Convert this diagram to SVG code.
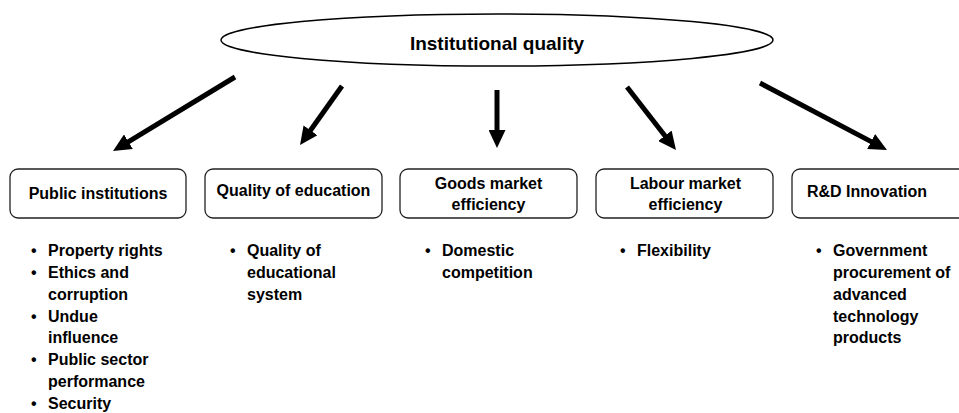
<svg xmlns="http://www.w3.org/2000/svg" width="959" height="413" viewBox="0 0 959 413">
<style>
text{font-family:"Liberation Sans",Arial,sans-serif;font-weight:bold;fill:#000}
.t{font-size:16px}
.title{font-size:19px}
.box{fill:#fff;stroke:#222;stroke-width:1.3}
.arr{stroke:#000;stroke-width:5;fill:none}
.c{text-anchor:middle}
</style>
<defs>
<marker id="ah" viewBox="0 0 18 17" refX="6" refY="8.5" markerWidth="18" markerHeight="17" markerUnits="userSpaceOnUse" orient="auto">
<path d="M0,0 L18,8.5 L0,17 z" fill="#000"/>
</marker>
</defs>
<rect width="959" height="413" fill="#fff"/>
<g id="institutional-quality">
<ellipse cx="497" cy="40" rx="276" ry="26" fill="#fff" stroke="#000" stroke-width="1.5"/>
<text class="title c" x="497" y="50">Institutional quality</text>
</g>
<g id="connectors">
<line class="arr" x1="235" y1="77" x2="123.3" y2="144.8" marker-end="url(#ah)"/>
<line class="arr" x1="342" y1="86" x2="307" y2="135.2" marker-end="url(#ah)"/>
<line class="arr" x1="497" y1="90" x2="497" y2="136" marker-end="url(#ah)"/>
<line class="arr" x1="627" y1="87" x2="668.6" y2="140.5" marker-end="url(#ah)"/>
<line class="arr" x1="760" y1="83" x2="876.4" y2="144.4" marker-end="url(#ah)"/>
</g>
<g id="public-institutions">
<rect class="box" x="10" y="169" width="176" height="49" rx="8"/>
<text class="t c" x="98" y="199">Public institutions</text>
<text class="t" x="31" y="256">•</text><text class="t" x="48" y="256">Property rights</text>
<text class="t" x="31" y="277.9">•</text><text class="t" x="48" y="277.9">Ethics and</text>
<text class="t" x="48" y="299.7">corruption</text>
<text class="t" x="31" y="321.6">•</text><text class="t" x="48" y="321.6">Undue</text>
<text class="t" x="48" y="343.4">influence</text>
<text class="t" x="31" y="365.3">•</text><text class="t" x="48" y="365.3">Public sector</text>
<text class="t" x="48" y="387.1">performance</text>
<text class="t" x="31" y="409">•</text><text class="t" x="48" y="409">Security</text>
</g>
<g id="quality-of-education">
<rect class="box" x="205" y="169" width="177" height="49" rx="8"/>
<text class="t c" x="293.5" y="196">Quality of education</text>
<text class="t" x="230" y="256">•</text><text class="t" x="247" y="256">Quality of</text>
<text class="t" x="247" y="277.9">educational</text>
<text class="t" x="247" y="299.7">system</text>
</g>
<g id="goods-market-efficiency">
<rect class="box" x="400" y="169" width="177" height="49" rx="8"/>
<text class="t c" x="488.5" y="189">Goods market</text>
<text class="t c" x="488.5" y="210">efficiency</text>
<text class="t" x="425" y="256">•</text><text class="t" x="442" y="256">Domestic</text>
<text class="t" x="442" y="277.9">competition</text>
</g>
<g id="labour-market-efficiency">
<rect class="box" x="596" y="169" width="177" height="49" rx="8"/>
<text class="t c" x="685.5" y="189">Labour market</text>
<text class="t c" x="685.5" y="210">efficiency</text>
<text class="t" x="620" y="256">•</text><text class="t" x="637" y="256">Flexibility</text>
</g>
<g id="rd-innovation">
<rect class="box" x="792" y="169" width="177" height="49" rx="8"/>
<text class="t" x="807" y="197">R&amp;D Innovation</text>
<text class="t" x="816" y="256">•</text><text class="t" x="833" y="256">Government</text>
<text class="t" x="833" y="277.9">procurement of</text>
<text class="t" x="833" y="299.7">advanced</text>
<text class="t" x="833" y="321.6">technology</text>
<text class="t" x="833" y="343.4">products</text>
</g>
</svg>
